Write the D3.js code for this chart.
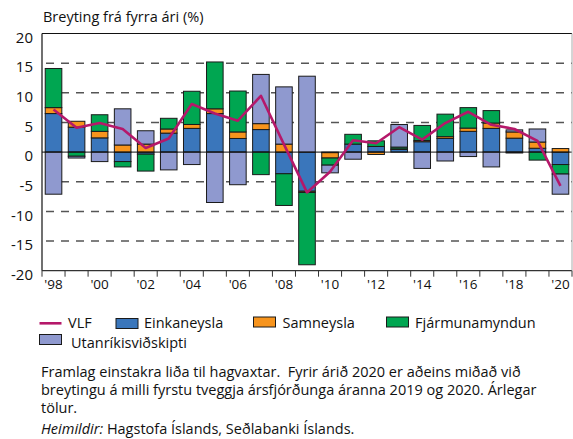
<!DOCTYPE html>
<html>
<head>
<meta charset="utf-8">
<script src="https://cdn.jsdelivr.net/npm/d3@7"></script>
<style>
  body { margin: 0; background: #fff; }
  text { font-family: "Open Sans", Lato, sans-serif; fill: #111; }
</style>
</head>
<body>
<svg id="chart" width="573" height="439"></svg>
<script>
// data
var years = d3.range(1998, 2021);
var einkaneysla = [6.5, 4.2, 2.4, -1.6, -0.35, 3.2, 4.0, 6.5, 2.3, 3.8, -3.65, -6.6, -0.1, 1.35, 0.95, 0.45, 1.75, 2.3, 3.5, 4.0, 2.35, 0.65, -2.1];
var samneysla = [1.0, 1.0, 1.1, 1.2, 1.35, 0.7, 0.66, 0.8, 1.1, 1.0, 1.35, -0.2, -0.9, 0.0, -0.4, 0.1, 0.2, 0.3, 0.55, 0.9, 1.05, 1.05, 0.6];
var fjarmunamyndun = [6.6, -0.7, 2.8, -0.9, -2.85, 1.8, 5.6, 7.9, 6.9, -3.8, -5.35, -12.2, -1.2, 1.65, 0.95, 0.3, 2.55, 3.8, 3.45, 2.1, -0.15, -1.35, -1.6];
var utanrikis = [-7.1, -0.3, -1.6, 6.1, 2.25, -3.0, -2.1, -8.5, -5.5, 8.3, 9.65, 12.8, -1.3, -1.2, 0.0, 3.8, -2.75, -1.5, -0.75, -2.5, 0.35, 2.2, -3.4];
var vlf = [7.2, 4.1, 4.9, 3.9, 0.7, 2.3, 8.1, 6.5, 5.3, 9.5, 1.3, -6.8, -3.3, 2.0, 1.5, 4.2, 2.1, 4.9, 6.8, 4.6, 3.9, 1.9, -5.7];

var seriesNames = ["Einkaneysla", "Samneysla", "Fjármunamyndun", "Utanríkisviðskipti"];
var seriesColors = ["#3a76bb", "#f7941d", "#00a651", "#8f99cf"];
var yTicks = [20, 15, 10, 5, 0, -5, -10, -15, -20];
var xLabelYears = [1998, 2000, 2002, 2004, 2006, 2008, 2010, 2012, 2014, 2016, 2018, 2020];
var xLabels = ["'98", "'00", "'02", "'04", "'06", "'08", "'10", "'12", "'14", "'16", "'18", "'20"];

var plotLeft = 42, plotRight = 572, plotTop = 33.5, plotBottom = 270.7;

var svg = d3.select("#chart");

var x = d3.scaleBand()
    .domain(years)
    .range([plotLeft, plotRight])
    .paddingInner(0.28)
    .paddingOuter(0.14);

var y = d3.scaleLinear()
    .domain([-20, 20])
    .range([plotBottom, plotTop]);

// title
svg.append("text")
    .attr("x", 43).attr("y", 21.5)
    .style("font-size", "14.5px")
    .text("Breyting frá fyrra ári (%)");

// dashed grid lines
svg.append("g").selectAll("line")
    .data(yTicks.filter(function(d) { return d != 0 && Math.abs(d) != 20; }))
    .enter().append("line")
    .attr("x1", plotLeft + 4).attr("x2", plotRight)
    .attr("y1", function(d) { return y(d); })
    .attr("y2", function(d) { return y(d); })
    .attr("stroke", "#555")
    .attr("stroke-width", 1.5)
    .attr("stroke-dasharray", "8,7");

// y labels
svg.append("g").selectAll("text")
    .data(yTicks)
    .enter().append("text")
    .attr("x", 33)
    .attr("y", function(d) { return y(d) + 4; })
    .attr("dy", "0.35em")
    .attr("text-anchor", "end")
    .style("font-size", "15px")
    .text(function(d) { return d; });

// build table for stacking
var table = years.map(function(yr, i) {
  return {
    year: yr,
    "Einkaneysla": einkaneysla[i],
    "Samneysla": samneysla[i],
    "Fjármunamyndun": fjarmunamyndun[i],
    "Utanríkisviðskipti": utanrikis[i]
  };
});

var stacked = d3.stack()
    .keys(seriesNames)
    .offset(d3.stackOffsetDiverging)(table);

var layers = svg.append("g").selectAll("g")
    .data(stacked)
    .enter().append("g")
    .attr("fill", function(d, i) { return seriesColors[i]; });

layers.selectAll("rect")
    .data(function(d) { return d; })
    .enter().append("rect")
    .attr("x", function(d) { return x(d.data.year); })
    .attr("width", x.bandwidth())
    .attr("y", function(d) { return y(Math.max(d[0], d[1])); })
    .attr("height", function(d) { return Math.abs(y(d[0]) - y(d[1])); })
    .attr("stroke", "#1a1a1a")
    .attr("stroke-width", 1);

// zero line
svg.append("line")
    .attr("x1", plotLeft).attr("x2", plotRight)
    .attr("y1", y(0)).attr("y2", y(0))
    .attr("stroke", "#111").attr("stroke-width", 1);

// VLF line
var line = d3.line()
    .x(function(d, i) { return x(years[i]) + x.bandwidth() / 2; })
    .y(function(d) { return y(d); });

svg.append("path")
    .attr("d", line(vlf))
    .attr("fill", "none")
    .attr("stroke", "#b5186a")
    .attr("stroke-width", 2.6)
    .attr("stroke-linejoin", "round");

// frame
svg.append("line").attr("x1", plotLeft).attr("x2", plotRight).attr("y1", plotTop).attr("y2", plotTop)
    .attr("stroke", "#111").attr("stroke-width", 1);
svg.append("line").attr("x1", plotLeft).attr("x2", plotLeft).attr("y1", plotTop).attr("y2", plotBottom)
    .attr("stroke", "#111").attr("stroke-width", 1.2);
svg.append("line").attr("x1", plotLeft).attr("x2", plotRight).attr("y1", plotBottom).attr("y2", plotBottom)
    .attr("stroke", "#333").attr("stroke-width", 1.2);
svg.append("line").attr("x1", plotRight).attr("x2", plotRight).attr("y1", plotTop).attr("y2", plotBottom)
    .attr("stroke", "#aaa").attr("stroke-width", 1);

// x ticks on band boundaries
var step = x.step();
var bounds = years.map(function(yr) { return x(yr) + x.bandwidth() / 2 - step / 2; });
bounds.push(plotRight);
svg.append("g").selectAll("line")
    .data(bounds)
    .enter().append("line")
    .attr("x1", function(d) { return d; })
    .attr("x2", function(d) { return d; })
    .attr("y1", plotBottom).attr("y2", plotBottom + 6)
    .attr("stroke", "#333").attr("stroke-width", 1);

svg.append("g").selectAll("text")
    .data(xLabelYears)
    .enter().append("text")
    .attr("x", function(d) { return x(d) + x.bandwidth() / 2; })
    .attr("y", plotBottom + 18)
    .attr("text-anchor", "middle")
    .style("font-size", "13.5px")
    .text(function(d, i) { return xLabels[i]; });

// legend
var legend = svg.append("g").style("font-size", "14.5px");
legend.append("line")
    .attr("x1", 39.5).attr("x2", 61.5).attr("y1", 323.3).attr("y2", 323.3)
    .attr("stroke", "#b5186a").attr("stroke-width", 2.6);
legend.append("text").attr("x", 68).attr("y", 328).text("VLF");

var legendPos = [[116, 318.5, 144], [253.5, 317, 282.5], [386.5, 317, 415], [39.5, 334.5, 71]];
var legendY = [328, 328, 328, 348];
seriesNames.forEach(function(name, i) {
  legend.append("rect")
      .attr("x", legendPos[i][0]).attr("y", legendPos[i][1])
      .attr("width", 22).attr("height", 10)
      .attr("fill", seriesColors[i])
      .attr("stroke", "#1a1a1a").attr("stroke-width", 1);
  legend.append("text")
      .attr("x", legendPos[i][2]).attr("y", legendY[i])
      .text(name);
});

// notes
var notes = svg.append("g").style("font-size", "14.5px");
notes.append("text").attr("x", 41).attr("y", 376.5)
    .text("Framlag einstakra liða til hagvaxtar.\u00a0 Fyrir árið 2020 er aðeins miðað við");
notes.append("text").attr("x", 41).attr("y", 394.5)
    .text("breytingu á milli fyrstu tveggja ársfjórðunga áranna 2019 og 2020. Árlegar");
notes.append("text").attr("x", 41).attr("y", 412.5)
    .text("tölur.");
var src = notes.append("text").attr("x", 41).attr("y", 434);
src.append("tspan").style("font-style", "italic").text("Heimildir:");
src.append("tspan").text(" Hagstofa Íslands, Seðlabanki Íslands.");
</script>
</body>
</html>
